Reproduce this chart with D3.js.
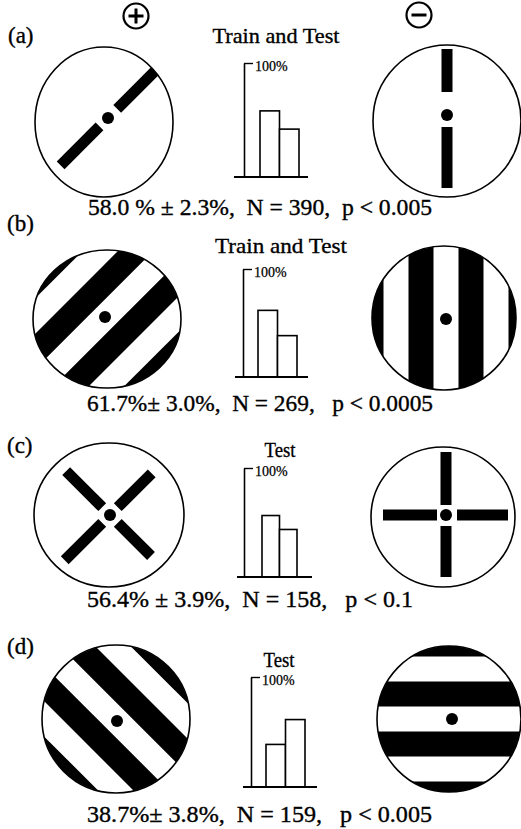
<!DOCTYPE html>
<html>
<head>
<meta charset="utf-8">
<script src="https://cdn.jsdelivr.net/npm/d3@7/dist/d3.min.js"></script>
<style>
  html, body { margin: 0; padding: 0; background: #fff; }
  svg { display: block; }
  svg text { fill: #000; white-space: pre; }
</style>
</head>
<body>
<div id="chart"></div>
<script>
// ---------------- data ----------------
const panelLabels = ["(a)", "(b)", "(c)", "(d)"];
const conditions = ["Train and Test", "Train and Test", "Test", "Test"];
const barCategories = ["plus", "minus"];
const plusChoice = [58.0, 61.7, 56.4, 38.7];   // % choosing the (+) pattern
const minusChoice = [42.0, 38.3, 43.6, 61.3];  // % choosing the (-) pattern
const statLines = [
  "58.0 % \u00B1 2.3%,  N = 390,  p < 0.005",
  "61.7%\u00B1 3.0%,  N = 269,   p < 0.0005",
  "56.4% \u00B1 3.9%,  N = 158,   p < 0.1",
  "38.7%\u00B1 3.8%,  N = 159,   p < 0.005"
];
const tickValues = [100];
const tickLabels = ["100%"];
const plusPatterns = ["bars-diag", "stripes-diag", "cross-diag", "stripes-antidiag"];
const minusPatterns = ["bars-vert", "stripes-vert", "cross-upright", "stripes-horiz"];

// ---------------- layout ----------------
const W = 521, H = 829;
const FONT = "'Liberation Serif', 'Times New Roman', Times, serif";
const svg = d3.select("#chart").append("svg").attr("width", W).attr("height", H)
  .style("font-family", FONT);
const defs = svg.append("defs");

const layout = [
  { label: [8, 43], title: [276, 43], titleW: 127, stat: [88, 215], statW: 344,
    axisX: 244, top: 63, base: 177, baseX: [234, 308], bars: [260, 299],
    left:  { c: [104, 122], r: [69, 75], dot: [108, 118] },
    right: { c: [447, 121], r: [74, 76], dot: [447, 115] } },
  { label: [7, 231], title: [281, 253], titleW: 132, stat: [87, 411], statW: 346,
    axisX: 243, top: 269, base: 377, baseX: [235, 308], bars: [258, 297],
    left:  { c: [107, 319], r: [74, 69], dot: [105, 317] },
    right: { c: [444, 318], r: [72, 72], dot: [446, 319] } },
  { label: [7, 453], title: [280, 457], titleW: 31, stat: [87, 607], statW: 326,
    axisX: 244, top: 468, base: 577, baseX: [237, 312], bars: [262, 297],
    left:  { c: [109, 515], r: [75, 72], dot: [110, 515] },
    right: { c: [443, 517], r: [72, 70], dot: [446, 515] } },
  { label: [7, 654], title: [279, 667], titleW: 31, stat: [87, 822], statW: 345,
    axisX: 251, top: 677, base: 787, baseX: [243, 317], bars: [266, 305],
    left:  { c: [116, 719], r: [74, 74], dot: [117, 721] },
    right: { c: [449, 719], r: [72, 73], dot: [452, 719] } }
];

// pattern geometry
const barSpecs = {
  "bars-diag":     [{ a: -45, r0: 13, r1: 66 }, { a: 135, r0: 12, r1: 67 }],
  "bars-vert":     [{ a: -90, r0: 23, r1: 66 }, { a: 90, r0: 12, r1: 73 }],
  "cross-diag":    [{ a: -135, r0: 11, r1: 62 }, { a: -45, r0: 11, r1: 59 },
                    { a: 135, r0: 11, r1: 64 }, { a: 45, r0: 11, r1: 58 }],
  "cross-upright": [{ a: -90, r0: 10, r1: 63 }, { a: 90, r0: 11, r1: 62 },
                    { a: 180, r0: 9, r1: 63 }, { a: 0, r0: 11, r1: 62 }]
};
const stripeAngle = { "stripes-diag": -45, "stripes-antidiag": 45, "stripes-vert": 90, "stripes-horiz": 0 };
const stripeCenters = [-75, -25, 25, 75];
const stripeWidth = 25;

function drawStimulus(g, spec, pattern, id) {
  const [cx, cy] = spec.c, [rx, ry] = spec.r, [dx, dy] = spec.dot;
  if (pattern.startsWith("stripes")) {
    defs.append("clipPath").attr("id", id)
      .append("ellipse").attr("cx", cx).attr("cy", cy).attr("rx", rx).attr("ry", ry);
    const sg = g.append("g").attr("clip-path", `url(#${id})`)
      .append("g").attr("transform", `translate(${dx},${dy}) rotate(${stripeAngle[pattern]})`);
    sg.selectAll("rect").data(stripeCenters).join("rect")
      .attr("x", -120).attr("width", 240)
      .attr("y", d => d - stripeWidth / 2).attr("height", stripeWidth)
      .attr("fill", "#000");
  } else {
    const bg = g.append("g").attr("transform", `translate(${dx},${dy})`);
    bg.selectAll("rect").data(barSpecs[pattern]).join("rect")
      .attr("transform", d => `rotate(${d.a})`)
      .attr("x", d => d.r0).attr("width", d => d.r1 - d.r0)
      .attr("y", -5.5).attr("height", 11)
      .attr("fill", "#000");
  }
  g.append("ellipse").attr("cx", cx).attr("cy", cy).attr("rx", rx).attr("ry", ry)
    .attr("fill", "none").attr("stroke", "#000").attr("stroke-width", 1.6);
  g.append("circle").attr("cx", dx).attr("cy", dy).attr("r", 6).attr("fill", "#000");
}

function inkText(sel) {
  return sel.style("font-family", FONT).attr("stroke", "#000").attr("stroke-width", 0.35);
}

layout.forEach((L, i) => {
  const g = svg.append("g");
  inkText(g.append("text")).attr("x", L.label[0]).attr("y", L.label[1])
    .attr("font-size", 23).text(panelLabels[i]);
  inkText(g.append("text")).attr("x", L.title[0]).attr("y", L.title[1])
    .attr("text-anchor", "middle").attr("font-size", 22)
    .attr("textLength", L.titleW).attr("lengthAdjust", "spacingAndGlyphs")
    .text(conditions[i]);
  inkText(g.append("text")).attr("x", L.stat[0]).attr("y", L.stat[1])
    .attr("font-size", 23)
    .attr("textLength", L.statW).attr("lengthAdjust", "spacingAndGlyphs")
    .text(statLines[i]);

  drawStimulus(g.append("g"), L.left, plusPatterns[i], "clipL" + i);
  drawStimulus(g.append("g"), L.right, minusPatterns[i], "clipR" + i);

  // bar chart
  const y = d3.scaleLinear().domain([0, 100]).range([L.base, L.top]);
  const x = d3.scaleBand().domain(barCategories).range(L.bars).padding(0);
  const vals = [plusChoice[i], minusChoice[i]];

  const ax = g.append("g").attr("transform", `translate(${L.axisX},0)`)
    .call(d3.axisRight(y).tickValues(tickValues).tickSize(9).tickSizeOuter(0)
      .tickPadding(2).tickFormat((d, k) => tickLabels[k]));
  ax.attr("font-family", null).style("font-family", FONT);
  ax.select(".domain").attr("stroke", "#000").attr("stroke-width", 1.6);
  ax.selectAll(".tick line").attr("stroke", "#000").attr("stroke-width", 1.4);
  ax.selectAll(".tick text").style("font-family", FONT).attr("font-size", 14)
    .attr("stroke", "#000").attr("stroke-width", 0.25)
    .attr("dy", "0.55em").attr("fill", "#000");

  g.selectAll(".bar").data(barCategories).join("rect").attr("class", "bar")
    .attr("x", d => x(d)).attr("width", x.bandwidth())
    .attr("y", (d, k) => y(vals[k])).attr("height", (d, k) => L.base - y(vals[k]))
    .attr("fill", "#fff").attr("stroke", "#000").attr("stroke-width", 1.6);

  g.append("line").attr("x1", L.baseX[0]).attr("x2", L.baseX[1])
    .attr("y1", L.base).attr("y2", L.base).attr("stroke", "#000").attr("stroke-width", 2);
});

// (+) and (-) symbols
const signs = [{ c: [136, 16], s: "+" }, { c: [419, 15], s: "-" }];
const sg = svg.selectAll(".sign").data(signs).join("g").attr("class", "sign")
  .attr("transform", d => `translate(${d.c[0]},${d.c[1]})`);
sg.append("circle").attr("r", 12.5).attr("fill", "none").attr("stroke", "#000").attr("stroke-width", 2.2);
sg.append("line").attr("x1", -7.5).attr("x2", 7.5).attr("y1", 0).attr("y2", 0)
  .attr("stroke", "#000").attr("stroke-width", 3);
sg.filter(d => d.s === "+").append("line").attr("x1", 0).attr("x2", 0).attr("y1", -7.5).attr("y2", 7.5)
  .attr("stroke", "#000").attr("stroke-width", 3);
</script>
</body>
</html>
